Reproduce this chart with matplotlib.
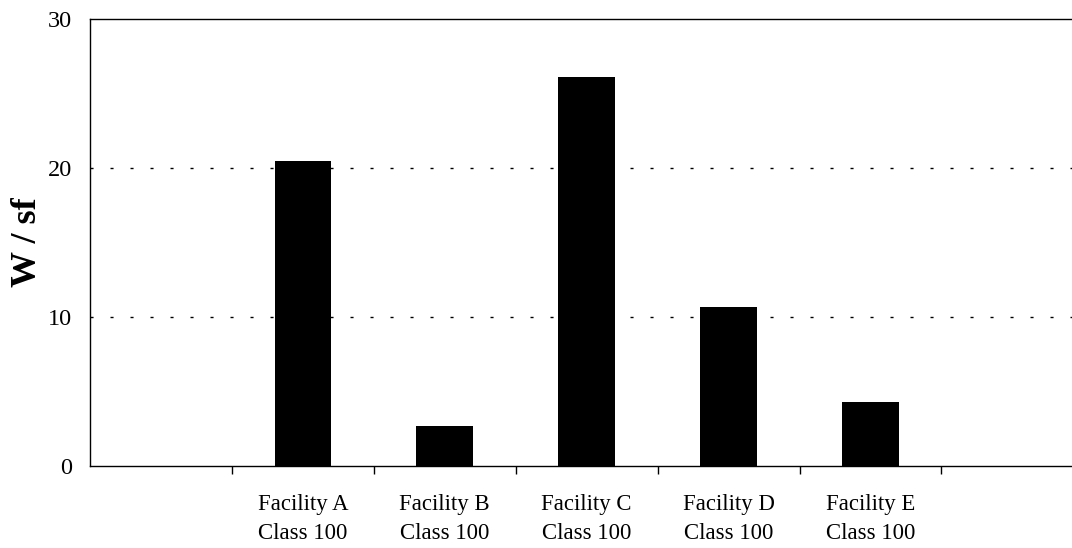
import matplotlib.pyplot as plt
import numpy as np

facilities = ["Facility A", "Facility B", "Facility C", "Facility D", "Facility E"]
classes = ["Class 100", "Class 100", "Class 100", "Class 100", "Class 100"]
watts_per_sf = [20.5, 2.7, 26.1, 10.7, 4.3]

plt.rcParams['font.family'] = ['Liberation Serif', 'DejaVu Serif']

fig = plt.figure(figsize=(10.72, 5.48), dpi=100)
ax = fig.add_axes([0.084, 0.15, 0.916, 0.815])

x = np.arange(1, len(facilities) + 1)
ax.bar(x, watts_per_sf, width=0.4, color='black', zorder=3)

ax.set_xlim(-0.5, 6.42)
ax.set_ylim(0, 30)
ax.set_yticks([0, 10, 20, 30])
ax.tick_params(axis='y', length=0, labelsize=17.5, pad=13)

labels = [f + "\n" + c for f, c in zip(facilities, classes)]
ax.set_xticks(x)
ax.set_xticklabels(labels, fontsize=16.4, linespacing=1.55)
ax.tick_params(axis='x', which='major', length=0, pad=20)
ax.set_xticks(np.arange(0.5, 6, 1), minor=True)
ax.tick_params(axis='x', which='minor', length=5.5, width=1, direction='out')

for y in [10, 20]:
    ax.axhline(y, color='black', linestyle=(0, (2.2, 12.2)), linewidth=1.0, zorder=1)

ax.spines['right'].set_visible(False)
for s in ['top', 'left', 'bottom']:
    ax.spines[s].set_linewidth(1.0)

ax.set_ylabel("W / sf", fontsize=26, fontweight='bold', labelpad=3)

fig.savefig("out.png", dpi=100)
